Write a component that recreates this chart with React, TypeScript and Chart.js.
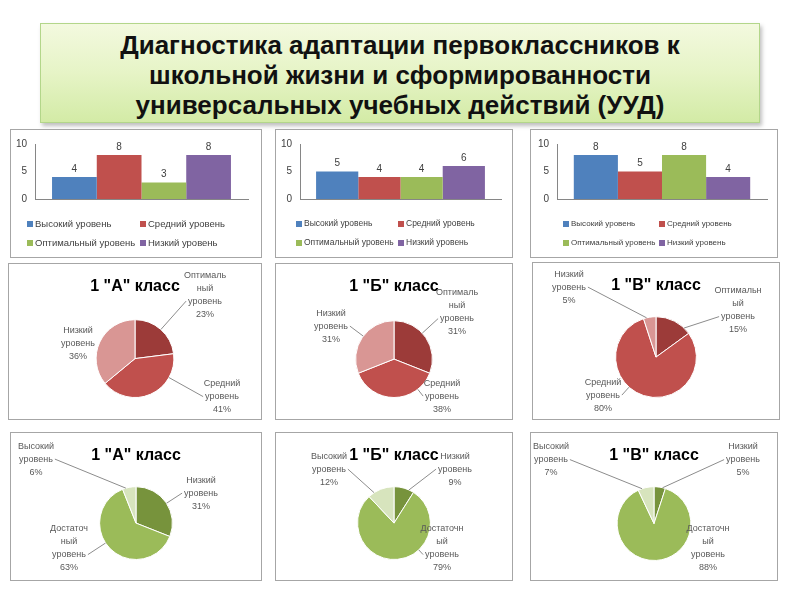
import React, { useEffect, useRef } from 'react';
import { Chart, registerables } from 'chart.js';

Chart.register(...registerables);

// ---------- DATA ----------
const SLIDE_TITLE_LINES = [
  'Диагностика адаптации первоклассников к',
  'школьной жизни и сформированности',
  'универсальных учебных действий (УУД)',
];

const BAR_SERIES = ['Высокий уровень', 'Средний уровень', 'Оптимальный уровень', 'Низкий уровень'];
const BAR_VALUES_A = [4, 8, 3, 8];
const BAR_VALUES_B = [5, 4, 4, 6];
const BAR_VALUES_V = [8, 5, 8, 4];
const BAR_TICKS = [0, 5, 10];

const CLASS_TITLES = ['1 "А" класс', '1 "Б" класс', '1 "В" класс'];

const ADAPT_CATEGORIES_A = [['Оптималь', 'ный', 'уровень'], ['Средний', 'уровень'], ['Низкий', 'уровень']];
const ADAPT_VALUES_A = [23, 41, 36];
const ADAPT_CATEGORIES_B = [['Оптималь', 'ный', 'уровень'], ['Средний', 'уровень'], ['Низкий', 'уровень']];
const ADAPT_VALUES_B = [31, 38, 31];
const ADAPT_CATEGORIES_V = [['Оптимальн', 'ый', 'уровень'], ['Средний', 'уровень'], ['Низкий', 'уровень']];
const ADAPT_VALUES_V = [15, 80, 5];

const UUD_CATEGORIES_A = [['Низкий', 'уровень'], ['Достаточ', 'ный', 'уровень'], ['Высокий', 'уровень']];
const UUD_VALUES_A = [31, 63, 6];
const UUD_CATEGORIES_B = [['Низкий', 'уровень'], ['Достаточн', 'ый', 'уровень'], ['Высокий', 'уровень']];
const UUD_VALUES_B = [9, 79, 12];
const UUD_CATEGORIES_V = [['Низкий', 'уровень'], ['Достаточн', 'ый', 'уровень'], ['Высокий', 'уровень']];
const UUD_VALUES_V = [5, 88, 7];

// ---------- STYLES / LAYOUT ----------
const FONT = '"Liberation Sans", Arial, sans-serif';
const BAR_COLORS = ['#4F81BD', '#C0504D', '#9BBB59', '#8064A2'];
const ADAPT_COLORS = ['#9C3B39', '#C0504D', '#D99694'];
const UUD_COLORS = ['#77933C', '#9BBB59', '#D7E4BD'];

const BAR_BOXES = [
  { x: 10, y: 129, w: 252, h: 129, axisW: 24, padRight: 13, legX: 16, legGap: 113, legFont: 9.5 },
  { x: 275, y: 129, w: 238, h: 129, axisW: 24, padRight: 11, legX: 20, legGap: 102, legFont: 8.5 },
  { x: 530, y: 129, w: 248, h: 129, axisW: 26, padRight: 10, legX: 32, legGap: 96, legFont: 8 },
];

const PIE_BOXES_ROW2 = [
  { x: 8, y: 263, w: 254, h: 157, titleTop: 13, titleBottom: 23, padBottom: 21 },
  { x: 275, y: 263, w: 238, h: 157, titleTop: 13, titleBottom: 24, padBottom: 21 },
  { x: 532, y: 262, w: 248, h: 158, titleTop: 13, titleBottom: 21, padBottom: 21 },
];
const PIE_BOXES_ROW3 = [
  { x: 10, y: 432, w: 252, h: 149, titleTop: 13, titleBottom: 21, padBottom: 20 },
  { x: 275, y: 432, w: 238, h: 149, titleTop: 13, titleBottom: 21, padBottom: 20 },
  { x: 530, y: 432, w: 248, h: 149, titleTop: 13, titleBottom: 21, padBottom: 19 },
];

// label block centre offsets from pie centre (px) and whether a leader line is drawn
const ADAPT_LABEL_POS = [
  { off: [[70, -64], [87, 38], [-57, -15]], leader: [true, true, false] },
  { off: [[63, -47], [48, 37], [-63, -33]], leader: [true, true, true] },
  { off: [[82, -47], [-53, 38], [-87, -70]], leader: [true, true, true] },
];
const UUD_LABEL_POS = [
  { off: [[65, -30], [-67, 25], [-100, -64]], leader: [true, true, true] },
  { off: [[61, -54], [48, 25], [-65, -54]], leader: [true, true, true] },
  { off: [[89, -64], [54, 24], [-103, -64]], leader: [true, false, true] },
];

// ---------- PLUGINS ----------
const barValuePlugin = {
  id: 'barValues',
  afterDatasetsDraw(chart: any) {
    const ctx = chart.ctx;
    ctx.save();
    ctx.font = `10px ${FONT}`;
    ctx.fillStyle = '#404040';
    ctx.textAlign = 'center';
    ctx.textBaseline = 'bottom';
    chart.data.datasets.forEach((ds: any, i: number) => {
      const meta = chart.getDatasetMeta(i);
      meta.data.forEach((el: any, j: number) => {
        ctx.fillText(String(ds.data[j]), el.x, el.y - 3);
      });
    });
    ctx.restore();
  },
};

const gridLegendPlugin = {
  id: 'gridLegend',
  afterDraw(chart: any, _args: any, opts: any) {
    const ctx = chart.ctx;
    const ca = chart.chartArea;
    ctx.save();
    ctx.font = `${opts.font}px ${FONT}`;
    ctx.textAlign = 'left';
    ctx.textBaseline = 'middle';
    chart.data.datasets.forEach((ds: any, i: number) => {
      const row = Math.floor(i / 2);
      const col = i % 2;
      const x = opts.x + col * opts.gap;
      const y = ca.bottom + 25 + row * 19;
      ctx.fillStyle = ds.backgroundColor;
      ctx.fillRect(x, y - 3, 6, 6);
      ctx.fillStyle = '#404040';
      ctx.fillText(ds.label, x + 8, y);
    });
    ctx.restore();
  },
};

const pieLabelPlugin = {
  id: 'pieLabels',
  afterDatasetsDraw(chart: any, _args: any, opts: any) {
    const ctx = chart.ctx;
    const meta = chart.getDatasetMeta(0);
    const ds = chart.data.datasets[0];
    const total = ds.data.reduce((a: number, b: number) => a + b, 0);
    const lh = 13;
    ctx.save();
    ctx.font = `9px ${FONT}`;
    ctx.textAlign = 'center';
    ctx.textBaseline = 'middle';
    meta.data.forEach((arc: any, i: number) => {
      const cx = arc.x;
      const cy = arc.y;
      const r = arc.outerRadius;
      const lines: string[] = [...chart.data.labels[i], `${Math.round((ds.data[i] / total) * 100)}%`];
      const [dx, dy] = opts.off[i];
      const lx = cx + dx;
      const ly = cy + dy;
      const top = ly - ((lines.length - 1) * lh) / 2;
      ctx.fillStyle = '#595959';
      lines.forEach((t, k) => ctx.fillText(t, lx, top + k * lh));
      if (opts.leader[i]) {
        const k = lines.length - 2;
        const w = ctx.measureText(lines[k]).width;
        const sy = top + k * lh;
        const sx = dx > 0 ? lx - w / 2 - 2 : lx + w / 2 + 2;
        const start = arc.startAngle;
        const end = arc.endAngle;
        const mid = (start + end) / 2;
        let a = Math.atan2(sy - cy, sx - cx);
        let d = a - mid;
        while (d > Math.PI) d -= 2 * Math.PI;
        while (d < -Math.PI) d += 2 * Math.PI;
        a = mid + d;
        const m = Math.min((end - start) * 0.25, (10 * Math.PI) / 180);
        a = Math.max(start + m, Math.min(end - m, a));
        const ex = cx + r * Math.cos(a);
        const ey = cy + r * Math.sin(a);
        ctx.strokeStyle = '#8c8c8c';
        ctx.lineWidth = 1;
        ctx.beginPath();
        ctx.moveTo(sx, sy);
        ctx.lineTo(ex, ey);
        ctx.stroke();
      }
    });
    ctx.restore();
  },
};

const boxStyle = (box: any): React.CSSProperties => ({
  position: 'absolute',
  left: box.x,
  top: box.y,
  width: box.w,
  height: box.h,
  border: '1px solid #a6a6a6',
  boxSizing: 'border-box',
  background: '#fff',
});

// ---------- COMPONENTS ----------
function BarBox({ values, box }: { values: number[]; box: any }) {
  const ref = useRef<HTMLCanvasElement>(null);
  useEffect(() => {
    const chart = new Chart(ref.current as HTMLCanvasElement, {
      type: 'bar',
      data: {
        labels: [''],
        datasets: BAR_SERIES.map((name, i) => ({
          label: name,
          data: [values[i]],
          backgroundColor: BAR_COLORS[i],
          borderWidth: 0,
          categoryPercentage: 0.84,
          barPercentage: 1,
        })),
      },
      options: {
        animation: false,
        responsive: false,
        maintainAspectRatio: false,
        layout: { padding: { left: 0, right: box.padRight, top: 13, bottom: 58 } },
        plugins: {
          legend: { display: false },
          tooltip: { enabled: false },
          gridLegend: { x: box.legX, gap: box.legGap, font: box.legFont },
        } as any,
        scales: {
          x: {
            grid: { display: false, drawTicks: false },
            ticks: { display: false },
            border: { display: true, color: '#868686' },
            afterFit: (s: any) => {
              s.height = 0;
            },
          },
          y: {
            min: 0,
            max: 10,
            afterBuildTicks: (s: any) => {
              s.ticks = BAR_TICKS.map((v) => ({ value: v }));
            },
            afterFit: (s: any) => {
              s.width = box.axisW;
            },
            grid: { display: false, drawTicks: false },
            border: { display: true, color: '#868686' },
            ticks: { padding: 8, color: '#404040', font: { size: 10, family: FONT } },
          },
        },
      },
      plugins: [barValuePlugin, gridLegendPlugin],
    });
    return () => chart.destroy();
  }, []);
  return (
    <div style={boxStyle(box)}>
      <canvas ref={ref} width={box.w - 2} height={box.h - 2} style={{ display: 'block', width: box.w - 2, height: box.h - 2 }} />
    </div>
  );
}

function PieBox({ title, categories, values, colors, box, labelPos }: any) {
  const ref = useRef<HTMLCanvasElement>(null);
  useEffect(() => {
    const chart = new Chart(ref.current as HTMLCanvasElement, {
      type: 'pie',
      data: {
        labels: categories,
        datasets: [
          {
            data: values,
            backgroundColor: colors,
            borderColor: '#ffffff',
            borderWidth: 1,
          },
        ],
      },
      options: {
        animation: false,
        responsive: false,
        maintainAspectRatio: false,
        layout: { padding: { left: 0, right: 0, top: 0, bottom: box.padBottom } },
        plugins: {
          legend: { display: false },
          tooltip: { enabled: false },
          title: {
            display: true,
            text: title,
            color: '#000',
            font: { size: 16, weight: 'bold', family: FONT },
            padding: { top: box.titleTop, bottom: box.titleBottom },
          },
          pieLabels: labelPos,
        } as any,
      },
      plugins: [pieLabelPlugin],
    });
    return () => chart.destroy();
  }, []);
  return (
    <div style={boxStyle(box)}>
      <canvas ref={ref} width={box.w - 2} height={box.h - 2} style={{ display: 'block', width: box.w - 2, height: box.h - 2 }} />
    </div>
  );
}

export default function App() {
  const barValues = [BAR_VALUES_A, BAR_VALUES_B, BAR_VALUES_V];
  const adaptCats = [ADAPT_CATEGORIES_A, ADAPT_CATEGORIES_B, ADAPT_CATEGORIES_V];
  const adaptVals = [ADAPT_VALUES_A, ADAPT_VALUES_B, ADAPT_VALUES_V];
  const uudCats = [UUD_CATEGORIES_A, UUD_CATEGORIES_B, UUD_CATEGORIES_V];
  const uudVals = [UUD_VALUES_A, UUD_VALUES_B, UUD_VALUES_V];
  return (
    <div style={{ position: 'absolute', left: 0, top: 0, width: 800, height: 600, background: '#fff', overflow: 'hidden', fontFamily: FONT }}>
      <div
        style={{
          position: 'absolute',
          left: 40,
          top: 23,
          width: 720,
          height: 100,
          boxSizing: 'border-box',
          border: '1px solid #b3d68a',
          background: 'linear-gradient(to bottom, #f3f9df 0%, #e6f4c6 50%, #d3eba6 100%)',
          boxShadow: '2px 3px 4px rgba(0,0,0,0.25)',
          textAlign: 'center',
          fontWeight: 'bold',
          fontSize: 26,
          lineHeight: '30px',
          paddingTop: 6,
          color: '#111',
          whiteSpace: 'nowrap',
        }}
      >
        {SLIDE_TITLE_LINES.map((l, i) => (
          <div key={i}>{l}</div>
        ))}
      </div>
      {BAR_BOXES.map((b, i) => (
        <BarBox key={'b' + i} values={barValues[i]} box={b} />
      ))}
      {PIE_BOXES_ROW2.map((b, i) => (
        <PieBox
          key={'p2' + i}
          title={CLASS_TITLES[i]}
          categories={adaptCats[i]}
          values={adaptVals[i]}
          colors={ADAPT_COLORS}
          box={b}
          labelPos={ADAPT_LABEL_POS[i]}
        />
      ))}
      {PIE_BOXES_ROW3.map((b, i) => (
        <PieBox
          key={'p3' + i}
          title={CLASS_TITLES[i]}
          categories={uudCats[i]}
          values={uudVals[i]}
          colors={UUD_COLORS}
          box={b}
          labelPos={UUD_LABEL_POS[i]}
        />
      ))}
    </div>
  );
}
